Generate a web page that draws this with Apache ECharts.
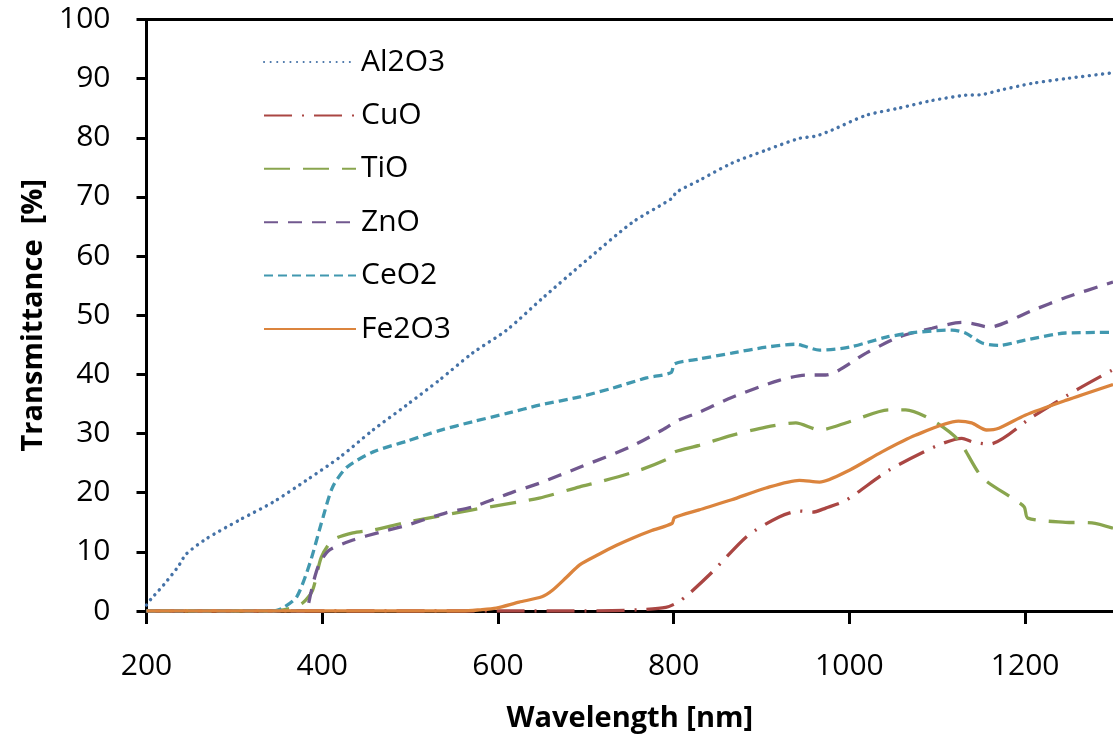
<!DOCTYPE html>
<html>
<head>
<meta charset="utf-8">
<script src="https://cdn.jsdelivr.net/npm/echarts@6/dist/echarts.min.js"></script>
<style>
  html, body { margin: 0; padding: 0; background: #fff; }
  #chart { width: 1113px; height: 740px; }
</style>
</head>
<body>
<div id="chart"></div>
<script>
// transmittance spectra, [wavelength nm, transmittance %]
const al2o3 = [[200,1.0],[205,2.0],[220,4.5],[236,7.5],[245,9.6],[268,12.2],[306,15.4],[344,18.4],[382,22.1],[420,26],[457,30.5],[496,34.8],[533,39],[571,43.6],[610,47.5],[650,52.8],[700,59.2],[753,65.7],[791,69.1],[799,69.9],[803,70.8],[829,72.8],[866,75.7],[905,77.9],[943,79.9],[962,80.3],[980,81.3],[1019,83.8],[1056,85],[1094,86.3],[1132,87.2],[1151,87.3],[1170,88],[1208,89.2],[1246,90],[1300,91]];
const cuo = [[200,0],[700,0],[760,0.2],[791,0.6],[805,1.5],[818,3],[844,6.6],[884,12.7],[920,15.9],[943,16.9],[958,16.7],[973,17.4],[996,18.7],[1045,23.8],[1099,27.9],[1128,29.2],[1140,28.6],[1159,28.2],[1208,32.8],[1261,37.6],[1300,40.8]];
const tio = [[200,0],[340,0],[360,0.3],[378,1.4],[389,3.5],[399,9.1],[412,12],[435,13.2],[458,13.7],[496,15],[571,17.1],[647,19.1],[693,21],[715,21.8],[761,23.8],[797,26],[801,26.9],[829,28],[866,29.7],[905,31.1],[939,31.8],[966,30.6],[1000,32],[1045,34],[1064,34],[1094,32.3],[1124,28.9],[1151,22.6],[1185,19.1],[1199,17.6],[1203,15.7],[1246,15],[1276,14.9],[1300,14]];
const zno = [[200,0],[381,0],[384,1],[387,3],[392,6],[397,8.1],[408,10.3],[435,12],[465,13.3],[496,14.5],[541,16.6],[571,17.6],[617,20.1],[647,21.6],[693,24.3],[750,27.7],[787,30.6],[806,32.3],[829,33.6],[866,36.1],[920,39],[951,39.9],[973,39.9],[1019,43.6],[1056,46.3],[1094,47.8],[1128,48.8],[1140,48.6],[1159,48],[1208,50.8],[1246,53],[1300,55.6]];
const ceo2 = [[200,0],[345,0],[355,0.5],[371,2.4],[386,8.1],[401,15.9],[412,21],[428,24.3],[458,26.9],[496,28.7],[533,30.5],[571,32],[610,33.4],[647,34.8],[693,36.2],[731,37.7],[769,39.4],[797,40.3],[801,41.8],[829,42.6],[866,43.6],[905,44.6],[939,45.1],[966,44.1],[1000,44.6],[1042,46.3],[1075,47.1],[1117,47.5],[1132,47],[1151,45.3],[1170,44.9],[1200,45.8],[1246,47],[1300,47.1]];
const fe2o3 = [[200,0],[560,0],[579,0.2],[598,0.5],[624,1.5],[650,2.4],[662,3.5],[678,5.7],[693,7.8],[715,9.6],[735,11.1],[753,12.3],[775,13.6],[798,14.8],[801,15.8],[829,17.1],[866,18.8],[905,20.8],[943,22.1],[966,21.8],[1000,23.8],[1037,26.9],[1075,29.7],[1124,32.1],[1139,31.8],[1156,30.6],[1170,30.9],[1200,33.1],[1246,35.6],[1300,38.3]];

const names = ['Al2O3', 'CuO', 'TiO', 'ZnO', 'CeO2', 'Fe2O3'];
const colors = ['#4572A7', '#AA4643', '#89A54E', '#71588F', '#4198AF', '#DB843D'];
const dashes = [[0.1, 6.5], [28, 10, 2, 10], [26, 13], [14, 10], [9, 5], 'solid'];
const xTicks = [200, 400, 600, 800, 1000, 1200];

const font = '"Open Sans", "Liberation Sans", sans-serif';
const allData = [al2o3, cuo, tio, zno, ceo2, fe2o3];

const chart = echarts.init(document.getElementById('chart'), null, { renderer: 'canvas' });

chart.setOption({
  animation: false,
  backgroundColor: '#fff',
  textStyle: { fontFamily: font },
  grid: { left: 146.5, right: 0, top: 19.5, bottom: 129 },
  legend: {
    orient: 'vertical',
    left: 258,
    top: 42,
    itemWidth: 92,
    itemHeight: 14,
    itemGap: 23.4,
    data: names,
    itemStyle: { opacity: 0 },
    textStyle: { fontSize: 30, color: '#000', fontFamily: font, lineHeight: 30 }
  },
  xAxis: [{
    type: 'value',
    min: 200,
    max: 1300,
    interval: 200,
    name: 'Wavelength [nm]',
    nameLocation: 'middle',
    nameGap: 93,
    nameTextStyle: { fontSize: 29, fontWeight: 'bold', color: '#000', fontFamily: font },
    axisLine: { show: true, lineStyle: { color: '#000', width: 3 } },
    axisTick: { show: true, length: 13, lineStyle: { color: '#000', width: 3 }, customValues: xTicks },
    axisLabel: { fontSize: 30, color: '#000', margin: 40, customValues: xTicks, formatter: v => String(v) },
    splitLine: { show: false }
  }, {
    type: 'value',
    position: 'top',
    min: 200,
    max: 1300,
    axisLine: { show: true, lineStyle: { color: '#000', width: 3 } },
    axisTick: { show: false },
    axisLabel: { show: false },
    splitLine: { show: false }
  }],
  yAxis: {
    type: 'value',
    min: 0,
    max: 100,
    interval: 10,
    name: 'Transmittance  [%]',
    nameLocation: 'middle',
    nameGap: 98,
    nameTextStyle: { fontSize: 29, fontWeight: 'bold', color: '#000', fontFamily: font },
    axisLine: { show: true, lineStyle: { color: '#000', width: 3 } },
    axisTick: { show: true, length: 10, lineStyle: { color: '#000', width: 3 } },
    axisLabel: { fontSize: 30, color: '#000', margin: 36 },
    splitLine: { show: false }
  },
  series: names.map((n, i) => ({
    name: n,
    type: 'line',
    xAxisIndex: 0,
    data: allData[i],
    symbol: 'none',
    smooth: 0.25,
    color: colors[i],
    lineStyle: {
      color: colors[i],
      width: i === 0 ? 3.4 : 3.3,
      type: dashes[i],
      cap: i === 0 ? 'round' : 'butt'
    }
  }))
});
</script>
</body>
</html>
